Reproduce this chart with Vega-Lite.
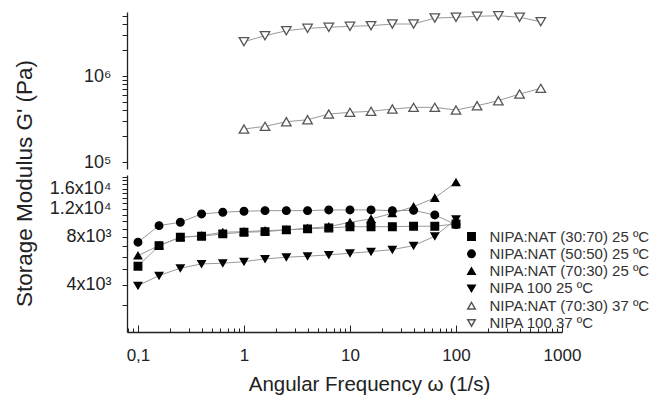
{
  "$schema": "https://vega.github.io/schema/vega-lite/v6.json",
  "padding": {"left": 12, "top": 9, "right": 0, "bottom": 0},
  "spacing": 6,
  "bounds": "flush",
  "config": {
    "view": {"stroke": null},
    "font": "Liberation Sans",
    "axis": {"grid": false, "domainColor": "#222", "tickColor": "#222", "labelColor": "#222", "titleColor": "#222", "labelFontSize": 18, "titleFontSize": 22.5, "titleFontWeight": "normal", "domainWidth": 1.3, "tickWidth": 1}
  },
  "datasets": {
    "d": [
      {"s": "NIPA:NAT (30:70) 25 ºC", "T": 25, "x": 0.1, "g": 5236},
      {"s": "NIPA:NAT (30:70) 25 ºC", "T": 25, "x": 0.158, "g": 7040},
      {"s": "NIPA:NAT (30:70) 25 ºC", "T": 25, "x": 0.251, "g": 7950},
      {"s": "NIPA:NAT (30:70) 25 ºC", "T": 25, "x": 0.398, "g": 8060},
      {"s": "NIPA:NAT (30:70) 25 ºC", "T": 25, "x": 0.631, "g": 8340},
      {"s": "NIPA:NAT (30:70) 25 ºC", "T": 25, "x": 1, "g": 8540},
      {"s": "NIPA:NAT (30:70) 25 ºC", "T": 25, "x": 1.58, "g": 8610},
      {"s": "NIPA:NAT (30:70) 25 ºC", "T": 25, "x": 2.51, "g": 8830},
      {"s": "NIPA:NAT (30:70) 25 ºC", "T": 25, "x": 3.98, "g": 8960},
      {"s": "NIPA:NAT (30:70) 25 ºC", "T": 25, "x": 6.31, "g": 9080},
      {"s": "NIPA:NAT (30:70) 25 ºC", "T": 25, "x": 10, "g": 9250},
      {"s": "NIPA:NAT (30:70) 25 ºC", "T": 25, "x": 15.8, "g": 9250},
      {"s": "NIPA:NAT (30:70) 25 ºC", "T": 25, "x": 25.1, "g": 9250},
      {"s": "NIPA:NAT (30:70) 25 ºC", "T": 25, "x": 39.8, "g": 9310},
      {"s": "NIPA:NAT (30:70) 25 ºC", "T": 25, "x": 63.1, "g": 9310},
      {"s": "NIPA:NAT (30:70) 25 ºC", "T": 25, "x": 100, "g": 9620},
      {"s": "NIPA:NAT (50:50) 25 ºC", "T": 25, "x": 0.1, "g": 7396},
      {"s": "NIPA:NAT (50:50) 25 ºC", "T": 25, "x": 0.158, "g": 9390},
      {"s": "NIPA:NAT (50:50) 25 ºC", "T": 25, "x": 0.251, "g": 9860},
      {"s": "NIPA:NAT (50:50) 25 ºC", "T": 25, "x": 0.398, "g": 11110},
      {"s": "NIPA:NAT (50:50) 25 ºC", "T": 25, "x": 0.631, "g": 11390},
      {"s": "NIPA:NAT (50:50) 25 ºC", "T": 25, "x": 1, "g": 11550},
      {"s": "NIPA:NAT (50:50) 25 ºC", "T": 25, "x": 1.58, "g": 11650},
      {"s": "NIPA:NAT (50:50) 25 ºC", "T": 25, "x": 2.51, "g": 11650},
      {"s": "NIPA:NAT (50:50) 25 ºC", "T": 25, "x": 3.98, "g": 11650},
      {"s": "NIPA:NAT (50:50) 25 ºC", "T": 25, "x": 6.31, "g": 11770},
      {"s": "NIPA:NAT (50:50) 25 ºC", "T": 25, "x": 10, "g": 11770},
      {"s": "NIPA:NAT (50:50) 25 ºC", "T": 25, "x": 15.8, "g": 11770},
      {"s": "NIPA:NAT (50:50) 25 ºC", "T": 25, "x": 25.1, "g": 11650},
      {"s": "NIPA:NAT (50:50) 25 ºC", "T": 25, "x": 39.8, "g": 11700},
      {"s": "NIPA:NAT (50:50) 25 ºC", "T": 25, "x": 63.1, "g": 10950},
      {"s": "NIPA:NAT (50:50) 25 ºC", "T": 25, "x": 100, "g": 9530},
      {"s": "NIPA:NAT (70:30) 25 ºC", "T": 25, "x": 0.1, "g": 6100},
      {"s": "NIPA:NAT (70:30) 25 ºC", "T": 25, "x": 0.158, "g": 7040},
      {"s": "NIPA:NAT (70:30) 25 ºC", "T": 25, "x": 0.251, "g": 7950},
      {"s": "NIPA:NAT (70:30) 25 ºC", "T": 25, "x": 0.398, "g": 8130},
      {"s": "NIPA:NAT (70:30) 25 ºC", "T": 25, "x": 0.631, "g": 8540},
      {"s": "NIPA:NAT (70:30) 25 ºC", "T": 25, "x": 1, "g": 8610},
      {"s": "NIPA:NAT (70:30) 25 ºC", "T": 25, "x": 1.58, "g": 8740},
      {"s": "NIPA:NAT (70:30) 25 ºC", "T": 25, "x": 2.51, "g": 8830},
      {"s": "NIPA:NAT (70:30) 25 ºC", "T": 25, "x": 3.98, "g": 9050},
      {"s": "NIPA:NAT (70:30) 25 ºC", "T": 25, "x": 6.31, "g": 9250},
      {"s": "NIPA:NAT (70:30) 25 ºC", "T": 25, "x": 10, "g": 9860},
      {"s": "NIPA:NAT (70:30) 25 ºC", "T": 25, "x": 15.8, "g": 10340},
      {"s": "NIPA:NAT (70:30) 25 ºC", "T": 25, "x": 25.1, "g": 11220},
      {"s": "NIPA:NAT (70:30) 25 ºC", "T": 25, "x": 39.8, "g": 12340},
      {"s": "NIPA:NAT (70:30) 25 ºC", "T": 25, "x": 63.1, "g": 13990},
      {"s": "NIPA:NAT (70:30) 25 ºC", "T": 25, "x": 100, "g": 17540},
      {"s": "NIPA 100 25 ºC", "T": 25, "x": 0.1, "g": 3960},
      {"s": "NIPA 100 25 ºC", "T": 25, "x": 0.158, "g": 4573},
      {"s": "NIPA 100 25 ºC", "T": 25, "x": 0.251, "g": 5088},
      {"s": "NIPA 100 25 ºC", "T": 25, "x": 0.398, "g": 5411},
      {"s": "NIPA 100 25 ºC", "T": 25, "x": 0.631, "g": 5464},
      {"s": "NIPA 100 25 ºC", "T": 25, "x": 1, "g": 5591},
      {"s": "NIPA 100 25 ºC", "T": 25, "x": 1.58, "g": 5815},
      {"s": "NIPA 100 25 ºC", "T": 25, "x": 2.51, "g": 5959},
      {"s": "NIPA 100 25 ºC", "T": 25, "x": 3.98, "g": 6047},
      {"s": "NIPA 100 25 ºC", "T": 25, "x": 6.31, "g": 6161},
      {"s": "NIPA 100 25 ºC", "T": 25, "x": 10, "g": 6313},
      {"s": "NIPA 100 25 ºC", "T": 25, "x": 15.8, "g": 6460},
      {"s": "NIPA 100 25 ºC", "T": 25, "x": 25.1, "g": 6650},
      {"s": "NIPA 100 25 ºC", "T": 25, "x": 39.8, "g": 7040},
      {"s": "NIPA 100 25 ºC", "T": 25, "x": 63.1, "g": 8060},
      {"s": "NIPA 100 25 ºC", "T": 25, "x": 100, "g": 10300},
      {"s": "NIPA:NAT (70:30) 37 ºC", "T": 37, "x": 1, "g": 241900},
      {"s": "NIPA:NAT (70:30) 37 ºC", "T": 37, "x": 1.58, "g": 260200},
      {"s": "NIPA:NAT (70:30) 37 ºC", "T": 37, "x": 2.51, "g": 294200},
      {"s": "NIPA:NAT (70:30) 37 ºC", "T": 37, "x": 3.98, "g": 310300},
      {"s": "NIPA:NAT (70:30) 37 ºC", "T": 37, "x": 6.31, "g": 361400},
      {"s": "NIPA:NAT (70:30) 37 ºC", "T": 37, "x": 10, "g": 378300},
      {"s": "NIPA:NAT (70:30) 37 ºC", "T": 37, "x": 15.8, "g": 388600},
      {"s": "NIPA:NAT (70:30) 37 ºC", "T": 37, "x": 25.1, "g": 413400},
      {"s": "NIPA:NAT (70:30) 37 ºC", "T": 37, "x": 39.8, "g": 432500},
      {"s": "NIPA:NAT (70:30) 37 ºC", "T": 37, "x": 63.1, "g": 432500},
      {"s": "NIPA:NAT (70:30) 37 ºC", "T": 37, "x": 100, "g": 402300},
      {"s": "NIPA:NAT (70:30) 37 ºC", "T": 37, "x": 158, "g": 451500},
      {"s": "NIPA:NAT (70:30) 37 ºC", "T": 37, "x": 251, "g": 516200},
      {"s": "NIPA:NAT (70:30) 37 ºC", "T": 37, "x": 398, "g": 617400},
      {"s": "NIPA:NAT (70:30) 37 ºC", "T": 37, "x": 631, "g": 719400},
      {"s": "NIPA 100 37 ºC", "T": 37, "x": 1, "g": 2506000},
      {"s": "NIPA 100 37 ºC", "T": 37, "x": 1.58, "g": 2942000},
      {"s": "NIPA 100 37 ºC", "T": 37, "x": 2.51, "g": 3363000},
      {"s": "NIPA 100 37 ºC", "T": 37, "x": 3.98, "g": 3586000},
      {"s": "NIPA 100 37 ºC", "T": 37, "x": 6.31, "g": 3684000},
      {"s": "NIPA 100 37 ºC", "T": 37, "x": 10, "g": 3784000},
      {"s": "NIPA 100 37 ºC", "T": 37, "x": 15.8, "g": 3846000},
      {"s": "NIPA 100 37 ºC", "T": 37, "x": 25.1, "g": 4024000},
      {"s": "NIPA 100 37 ºC", "T": 37, "x": 39.8, "g": 4024000},
      {"s": "NIPA 100 37 ºC", "T": 37, "x": 63.1, "g": 4724000},
      {"s": "NIPA 100 37 ºC", "T": 37, "x": 100, "g": 4815000},
      {"s": "NIPA 100 37 ºC", "T": 37, "x": 158, "g": 4945000},
      {"s": "NIPA 100 37 ºC", "T": 37, "x": 251, "g": 5025000},
      {"s": "NIPA 100 37 ºC", "T": 37, "x": 398, "g": 4815000},
      {"s": "NIPA 100 37 ºC", "T": 37, "x": 631, "g": 4279000}
    ]
  },
  "data": {"name": "d"},
  "resolve": {"legend": {"shape": "independent", "fill": "independent", "stroke": "independent"}},
  "vconcat": [
    {
      "width": 435,
      "height": 157,
      "transform": [{"filter": "datum.T == 37"}],
      "encoding": {
        "x": {"field": "x", "type": "quantitative", "scale": {"type": "log", "domain": [0.0788, 1000], "nice": false}, "axis": null},
        "y": {"field": "g", "type": "quantitative", "scale": {"type": "log", "domain": [83000, 5550000], "nice": false},
          "axis": {"title": null, "values": [100000, 200000, 300000, 400000, 500000, 600000, 700000, 800000, 900000, 1000000, 2000000, 3000000, 4000000, 5000000],
            "labelExpr": "datum.value == 100000 ? '10⁵' : datum.value == 1000000 ? '10⁶' : ''",
            "tickSize": 5,
            "labelPadding": 11}}
      },
      "layer": [
        {"mark": {"type": "line", "color": "#999", "strokeWidth": 1}, "encoding": {"detail": {"field": "s"}}},
        {"mark": {"type": "point", "size": 90, "strokeWidth": 1.3, "opacity": 1},
          "encoding": {
            "shape": {"field": "s", "type": "nominal", "legend": null,
              "scale": {"domain": ["NIPA:NAT (30:70) 25 ºC", "NIPA:NAT (50:50) 25 ºC", "NIPA:NAT (70:30) 25 ºC", "NIPA 100 25 ºC", "NIPA:NAT (70:30) 37 ºC", "NIPA 100 37 ºC"],
                "range": ["square", "circle", "triangle-up", "triangle-down", "triangle-up", "triangle-down"]}},
            "fill": {"field": "s", "type": "nominal", "legend": null,
              "scale": {"domain": ["NIPA:NAT (30:70) 25 ºC", "NIPA:NAT (50:50) 25 ºC", "NIPA:NAT (70:30) 25 ºC", "NIPA 100 25 ºC", "NIPA:NAT (70:30) 37 ºC", "NIPA 100 37 ºC"],
                "range": ["#000", "#000", "#000", "#000", "#fff", "#fff"]}},
            "stroke": {"field": "s", "type": "nominal", "legend": null,
              "scale": {"domain": ["NIPA:NAT (30:70) 25 ºC", "NIPA:NAT (50:50) 25 ºC", "NIPA:NAT (70:30) 25 ºC", "NIPA 100 25 ºC", "NIPA:NAT (70:30) 37 ºC", "NIPA 100 37 ºC"],
                "range": ["#000", "#000", "#000", "#000", "#555", "#555"]}}
          }}
      ]
    },
    {
      "width": 435,
      "height": 157,
      "transform": [{"filter": "datum.T == 25"}],
      "encoding": {
        "x": {"field": "x", "type": "quantitative", "scale": {"type": "log", "domain": [0.0788, 1000], "nice": false},
          "axis": {"title": "Angular Frequency ω (1/s)", "values": [0.08, 0.09, 0.1, 0.2, 0.3, 0.4, 0.5, 0.6, 0.7, 0.8, 0.9, 1, 2, 3, 4, 5, 6, 7, 8, 9, 10, 20, 30, 40, 50, 60, 70, 80, 90, 100, 200, 300, 400, 500, 600, 700, 800, 900, 1000],
            "labelExpr": "datum.value == 0.1 ? '0,1' : (datum.value == 1 || datum.value == 10 || datum.value == 100 || datum.value == 1000) ? format(datum.value, 'd') : ''",
            "tickSize": {"condition": {"test": "datum.value == 0.1 || datum.value == 1 || datum.value == 10 || datum.value == 100 || datum.value == 1000", "value": -7}, "value": -4},
            "labelFontSize": 17, "labelPadding": 22, "labelFlush": false,
            "titleFontSize": 20.5, "titleX": 242, "titleY": 58.5, "titleBaseline": "alphabetic", "titleAlign": "center"}},
        "y": {"field": "g", "type": "quantitative", "scale": {"type": "log", "domain": [2030, 19470], "nice": false},
          "axis": {"title": "Storage Modulus G' (Pa)", "values": [2000, 3000, 4000, 5000, 6000, 7000, 8000, 9000, 10000, 11000, 12000, 13000, 14000, 15000, 16000, 17000, 18000, 19000],
            "labelExpr": "datum.value == 4000 ? '4x10³' : datum.value == 8000 ? '8x10³' : datum.value == 12000 ? '1.2x10⁴' : datum.value == 16000 ? '1.6x10⁴' : ''",
            "tickSize": 5,
            "labelPadding": 11, "titleX": -103, "titleY": 8, "titleAngle": 270, "titleAlign": "center", "titleBaseline": "middle"}}
      },
      "layer": [
        {"mark": {"type": "line", "color": "#999", "strokeWidth": 1}, "encoding": {"detail": {"field": "s"}}},
        {"mark": {"type": "point", "size": 58, "strokeWidth": 1.3, "opacity": 1},
          "encoding": {
            "shape": {"field": "s", "type": "nominal",
              "legend": {"title": null, "orient": "none", "legendX": 337, "legendY": 54, "labelFontSize": 15, "labelColor": "#333", "symbolSize": 55, "rowPadding": 1.3, "labelOffset": 10.5, "labelLimit": 300},
              "scale": {"domain": ["NIPA:NAT (30:70) 25 ºC", "NIPA:NAT (50:50) 25 ºC", "NIPA:NAT (70:30) 25 ºC", "NIPA 100 25 ºC", "NIPA:NAT (70:30) 37 ºC", "NIPA 100 37 ºC"],
                "range": ["square", "circle", "triangle-up", "triangle-down", "triangle-up", "triangle-down"]}},
            "fill": {"field": "s", "type": "nominal",
              "legend": {"title": null, "orient": "none", "legendX": 337, "legendY": 54, "labelFontSize": 15, "labelColor": "#333", "symbolSize": 55, "rowPadding": 1.3, "labelOffset": 10.5, "labelLimit": 300},
              "scale": {"domain": ["NIPA:NAT (30:70) 25 ºC", "NIPA:NAT (50:50) 25 ºC", "NIPA:NAT (70:30) 25 ºC", "NIPA 100 25 ºC", "NIPA:NAT (70:30) 37 ºC", "NIPA 100 37 ºC"],
                "range": ["#000", "#000", "#000", "#000", "#fff", "#fff"]}},
            "stroke": {"field": "s", "type": "nominal",
              "legend": {"title": null, "orient": "none", "legendX": 337, "legendY": 54, "labelFontSize": 15, "labelColor": "#333", "symbolSize": 55, "rowPadding": 1.3, "labelOffset": 10.5, "labelLimit": 300},
              "scale": {"domain": ["NIPA:NAT (30:70) 25 ºC", "NIPA:NAT (50:50) 25 ºC", "NIPA:NAT (70:30) 25 ºC", "NIPA 100 25 ºC", "NIPA:NAT (70:30) 37 ºC", "NIPA 100 37 ºC"],
                "range": ["#000", "#000", "#000", "#000", "#555", "#555"]}}
          }}
      ]
    }
  ]
}
